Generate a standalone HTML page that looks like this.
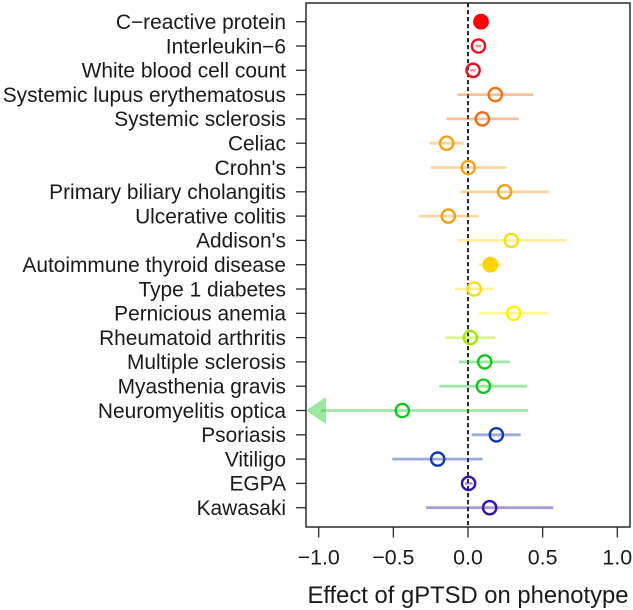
<!DOCTYPE html>
<html lang="en">
<head>
<meta charset="utf-8">
<title>Effect of gPTSD on phenotype</title>
<style>
html,body{margin:0;padding:0;background:#fff;width:633px;height:610px;overflow:hidden}
svg{display:block;filter:blur(0.35px)}
text{font-family:"Liberation Sans",Arial,sans-serif;fill:#1a1a1a}
</style>
</head>
<body>
<svg id="chart" width="633" height="610" viewBox="0 0 633 610" xmlns="http://www.w3.org/2000/svg"></svg>
<script>
const phenotypes = ["C\u2212reactive protein","Interleukin\u22126","White blood cell count","Systemic lupus erythematosus","Systemic sclerosis","Celiac","Crohn's","Primary biliary cholangitis","Ulcerative colitis","Addison's","Autoimmune thyroid disease","Type 1 diabetes","Pernicious anemia","Rheumatoid arthritis","Multiple sclerosis","Myasthenia gravis","Neuromyelitis optica","Psoriasis","Vitiligo","EGPA","Kawasaki"];
const estimates = [0.087,0.07,0.034,0.183,0.096,-0.143,0.002,0.245,-0.132,0.29,0.15,0.042,0.306,0.016,0.112,0.103,-0.44,0.19,-0.203,0.004,0.145];
const lowerCI = [0.07,0.05,0.015,-0.07,-0.145,-0.257,-0.25,-0.05,-0.328,-0.07,0.07,-0.087,0.074,-0.15,-0.06,-0.192,-1.3,0.025,-0.507,-0.02,-0.281];
const upperCI = [0.105,0.09,0.05,0.437,0.34,-0.03,0.258,0.54,0.07,0.66,0.23,0.176,0.538,0.183,0.281,0.397,0.402,0.353,0.098,0.03,0.571];
const significant = [true,false,false,false,false,false,false,false,false,false,true,false,false,false,false,false,false,false,false,false,false];
const colors = ["#ff0000","#ee0c1c","#e8101c","#f57010","#f26a10","#f5a010","#f5a010","#f5a010","#f5a010","#fbdc10","#ffd400","#fbdc10","#fdf200","#a4e800","#10c81c","#10c81c","#10c81c","#1038b0","#1038b0","#3410b0","#3410b0"];
const xTicks = [-1,-0.5,0,0.5,1];
const xTickLabels = ["\u22121.0","\u22120.5","0.0","0.5","1.0"];
const xAxisTitle = "Effect of gPTSD on phenotype";

const NS = "http://www.w3.org/2000/svg";
const svg = document.getElementById("chart");
const box = {left:306, right:630, top:3, bottom:527};
const xDomainMin = (box.left - 468) / 149.3;
function xScale(v){ return 468 + v * 149.3; }
function yScale(i){ return 21.7 + i * 24.3; }
function make(tag, attrs, parent){
  const el = document.createElementNS(NS, tag);
  for (const k in attrs) el.setAttribute(k, attrs[k]);
  (parent || svg).appendChild(el);
  return el;
}

const axisColor = "#2a2a2a";

// plot frame
const frame = make("rect", {x:box.left, y:box.top, width:box.right-box.left, height:box.bottom-box.top, fill:"none", stroke:axisColor, "stroke-width":1.5});



// reference line at zero
const zero = make("line", {x1:xScale(0), x2:xScale(0), y1:box.top, y2:box.bottom, stroke:"#222", "stroke-width":1.9, "stroke-dasharray":"4.2 2.8"});



// y axis labels and ticks
phenotypes.forEach(function(name, i){
  const y = yScale(i);
  const tick = make("line", {x1:box.left-10, x2:box.left, y1:y, y2:y, stroke:axisColor, "stroke-width":1.3});
  
  
  const label = make("text", {x:286, y:y+7.3, "text-anchor":"end", "font-size":20.9});
  label.textContent = name;
  
  
});

// x axis ticks and labels
xTicks.forEach(function(v, i){
  const x = xScale(v);
  const tick = make("line", {x1:x, x2:x, y1:box.bottom, y2:box.bottom+10.5, stroke:axisColor, "stroke-width":1.3});
  
  
  const label = make("text", {x:x, y:564.3, "text-anchor":"middle", "font-size":21.4});
  label.textContent = xTickLabels[i];
  
  
});

const title = make("text", {x:468, y:603, "text-anchor":"middle", "font-size":23.8});
title.textContent = xAxisTitle;



// confidence intervals and points
phenotypes.forEach(function(name, i){
  const y = yScale(i);
  const clipped = lowerCI[i] < xDomainMin;
  const loX = clipped ? box.left + 15 : xScale(lowerCI[i]);
  const ci = make("line", {x1:loX, x2:xScale(upperCI[i]), y1:y, y2:y, stroke:colors[i], "stroke-opacity":0.42, "stroke-width":2.8});
  
  
  if (clipped){
    const arrow = make("polygon", {points:(box.left)+","+y+" "+(box.left+20)+","+(y-13.5)+" "+(box.left+20)+","+(y+13.5), fill:colors[i], "fill-opacity":0.42});
    
    
  }
  const point = make("circle", significant[i]
    ? {cx:xScale(estimates[i]), cy:y, r:7.9, fill:colors[i]}
    : {cx:xScale(estimates[i]), cy:y, r:6.6, fill:"none", stroke:colors[i], "stroke-width":2.4});
  
  
});
</script>
</body>
</html>
